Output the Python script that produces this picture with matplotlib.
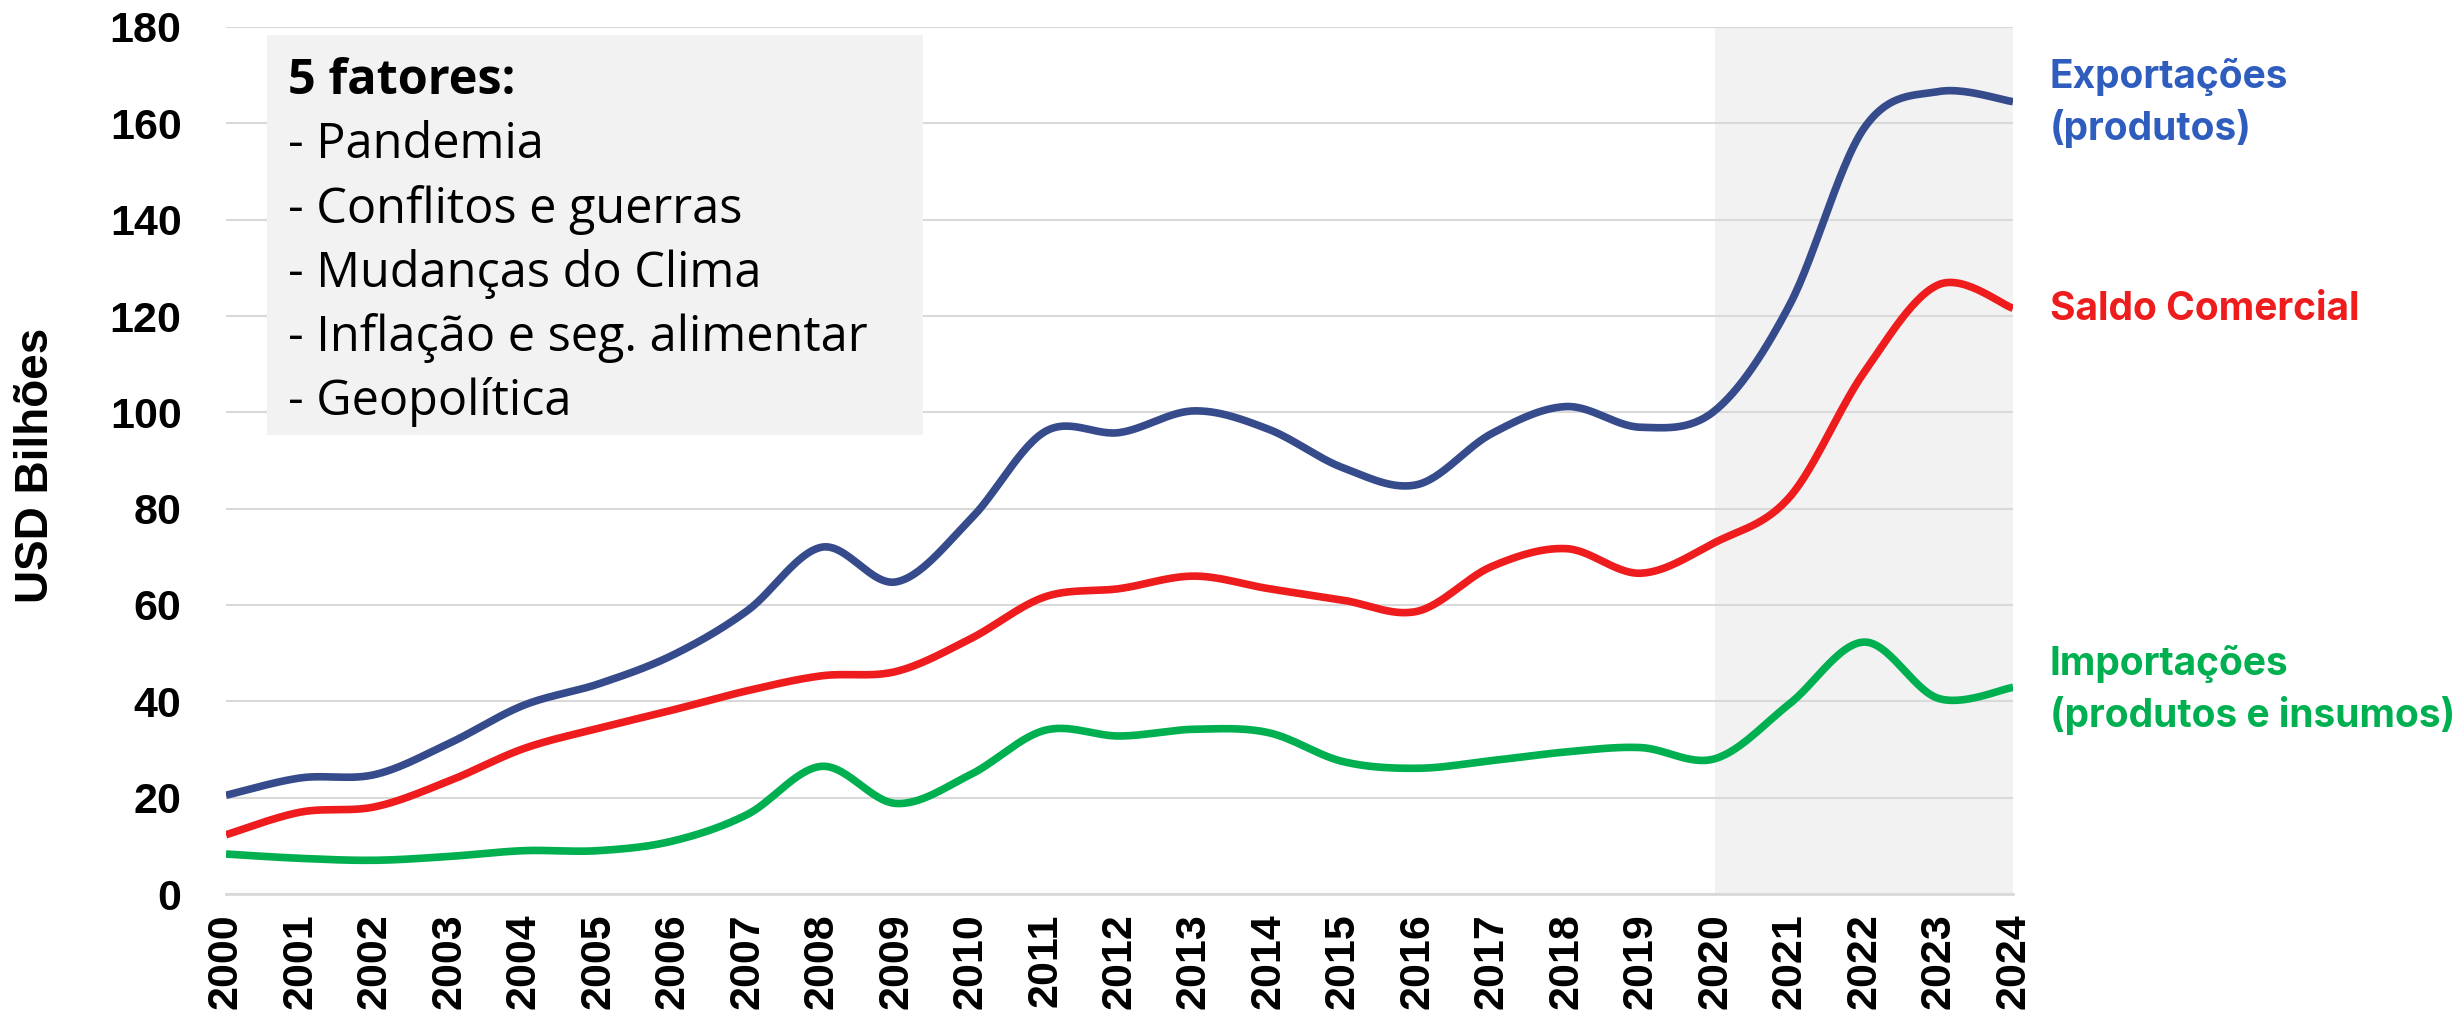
import numpy as np
import matplotlib
matplotlib.use("Agg")
import matplotlib.pyplot as plt
from matplotlib.patches import Rectangle

# data (USD bilhões)
anos = list(range(2000, 2025))
exportacoes = [20.5, 24.1, 24.8, 31.3, 39.2, 43.6, 49.6, 58.8, 72.0, 64.8, 77.8,
               96.0, 95.8, 100.3, 96.5, 88.5, 85.0, 95.6, 101.2, 96.9, 100.4,
               122.3, 159.0, 166.6, 164.5]
saldo = [12.3, 17.0, 18.1, 23.5, 30.2, 34.4, 38.2, 42.2, 45.3, 46.2, 53.0,
         61.7, 63.4, 66.0, 63.4, 61.0, 58.7, 68.0, 71.7, 66.6, 73.0,
         82.4, 108.3, 126.5, 121.6]
importacoes = [8.3, 7.4, 7.0, 7.8, 9.0, 9.0, 11.0, 16.5, 26.5, 18.8, 24.8,
               34.0, 32.8, 34.2, 33.5, 27.5, 26.1, 27.7, 29.5, 30.4, 28.1,
               39.5, 52.3, 40.6, 42.9]

fatores = ["- Pandemia", "- Conflitos e guerras", "- Mudanças do Clima",
           "- Inflação e seg. alimentar", "- Geopolítica"]

azul_linha = "#364B8C"
azul_txt = "#2E5DBE"
vermelho = "#EE1C1C"
verde = "#00B050"


def suave(x, y, n=30):
    # Excel-style smoothed line (Catmull-Rom as cubic Bezier)
    x = np.asarray(x, float)
    y = np.asarray(y, float)
    px = np.concatenate([[x[0]], x, [x[-1]]])
    py = np.concatenate([[y[0]], y, [y[-1]]])
    t = np.linspace(0, 1, n, endpoint=False)[:, None]
    xs, ys = [], []
    for i in range(1, len(px) - 2):
        p0 = np.array([px[i], py[i]])
        p3 = np.array([px[i + 1], py[i + 1]])
        p1 = p0 + (np.array([px[i + 1], py[i + 1]]) - np.array([px[i - 1], py[i - 1]])) / 6
        p2 = p3 - (np.array([px[i + 2], py[i + 2]]) - np.array([px[i], py[i]])) / 6
        b = ((1 - t) ** 3) * p0 + 3 * ((1 - t) ** 2) * t * p1 + 3 * (1 - t) * t ** 2 * p2 + t ** 3 * p3
        xs.append(b[:, 0])
        ys.append(b[:, 1])
    xs.append([x[-1]])
    ys.append([y[-1]])
    return np.concatenate(xs), np.concatenate(ys)


W, H = 2463, 1013
fig = plt.figure(figsize=(W / 100, H / 100), dpi=100)
ax = fig.add_axes([226 / W, 1 - 894 / H, (2013 - 226) / W, (894 - 27) / H])

ax.axvspan(2020, 2024, color="#F2F2F2", zorder=0, lw=0)

for serie, cor in [(exportacoes, azul_linha), (saldo, vermelho), (importacoes, verde)]:
    xs, ys = suave(anos, serie)
    ax.plot(xs, ys, color=cor, lw=5.5, solid_capstyle="butt", zorder=3)

ax.set_xlim(2000, 2024)
ax.set_ylim(0, 180)
ax.set_yticks(range(0, 181, 20))
ax.set_xticks(anos)
ax.set_xticklabels([str(a) for a in anos], rotation=90)
ax.grid(axis="y", color="#D9D9D9", lw=1.5, zorder=1)
ax.set_axisbelow(True)
for s in ["top", "right", "left"]:
    ax.spines[s].set_visible(False)
ax.spines["bottom"].set_color("#D9D9D9")
ax.spines["bottom"].set_linewidth(2)
ax.tick_params(axis="y", length=0, pad=32)
ax.tick_params(axis="x", length=0, pad=14)
for lab in ax.get_xticklabels() + ax.get_yticklabels():
    lab.set_fontfamily("Liberation Sans")
    lab.set_fontweight("bold")
    lab.set_fontsize(31)
fig.text(36 / W, 1 - 465 / H, "USD Bilhões", rotation=90, fontfamily="Liberation Sans",
         fontweight="bold", fontsize=33, ha="center", va="center")

# caixa de fatores
ax.add_patch(Rectangle((0.023, 0.529), 0.367, 0.462, transform=ax.transAxes,
                       facecolor="#F2F2F2", edgecolor="none", zorder=2))
ax.text(0.0347, 0.937, "5 fatores:", transform=ax.transAxes, fontsize=35,
        fontfamily="Open Sans", fontweight="bold", va="center", zorder=4)
for i, f in enumerate(fatores):
    ax.text(0.0347, 0.937 - 0.0738 * (i + 1), f, transform=ax.transAxes, fontsize=35,
            fontfamily="Open Sans", va="center", zorder=4)

# rótulos das séries
rot = dict(fontfamily="Inter", fontweight="bold", fontsize=28, va="center", ha="left")
x_rot = 2050 / W
fig.text(x_rot, 1 - 77 / H, "Exportações", color=azul_txt, **rot)
fig.text(x_rot, 1 - 129 / H, "(produtos)", color=azul_txt, **rot)
fig.text(x_rot, 1 - 309 / H, "Saldo Comercial", color=vermelho, **rot)
fig.text(x_rot, 1 - 664 / H, "Importações", color=verde, **rot)
fig.text(x_rot, 1 - 715 / H, "(produtos e insumos)", color=verde, **rot)

fig.savefig("out.png", dpi=100, facecolor="white")
